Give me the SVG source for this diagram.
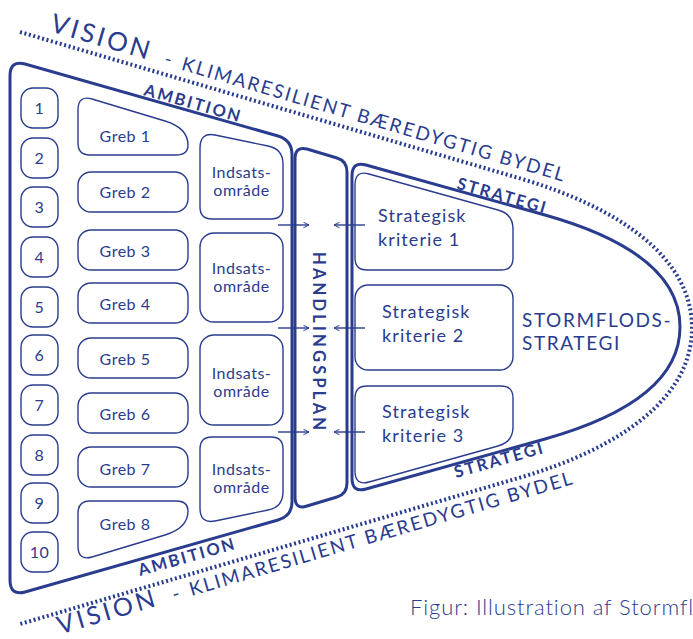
<svg xmlns="http://www.w3.org/2000/svg" width="693" height="639" viewBox="0 0 693 639">
<defs>
<style>
.s{fill:none;stroke:#2a3c8e;stroke-linejoin:round}
.k{stroke-width:3}
.n{stroke-width:1.4}
.t{font-family:Lato,'Noto Sans',sans-serif;fill:#2a3c8e}
.b{font-weight:700}
.g{font-size:16px;letter-spacing:0.5px;text-anchor:middle}
.sk{font-size:18px;letter-spacing:1.1px}
.dot{fill:none;stroke:#2a3c8e;stroke-width:4;stroke-dasharray:2 2.6}
.lab{font-size:16.5px;font-weight:700;letter-spacing:2.2px}
</style>
<marker id="ah" viewBox="0 0 10 10" refX="9" refY="5" markerWidth="7" markerHeight="7" orient="auto" markerUnits="userSpaceOnUse">
<path d="M1,1 L9,5 L1,9" fill="none" stroke="#2a3c8e" stroke-width="1.4"/>
</marker>
</defs>

<g id="vision">
<path class="dot" d="M20 32 L520 178.4 C620 207.7 692 258 692 328 C692 398 620 448.3 520 477.6 L20 624"/>
<g class="t" transform="translate(49,31) rotate(16.33)">
<text x="0" y="0" font-size="26" letter-spacing="3">VISION</text>
<text x="119" y="0" font-size="19">-</text>
<text x="137" y="0" font-size="19" letter-spacing="2">KLIMARESILIENT BÆREDYGTIG BYDEL</text>
</g>
<g class="t" transform="translate(60,634.5) rotate(-16.33)">
<text x="0" y="0" font-size="25" letter-spacing="3.4">VISION</text>
<text x="119" y="0" font-size="19">-</text>
<text x="137" y="0" font-size="19" letter-spacing="2">KLIMARESILIENT BÆREDYGTIG BYDEL</text>
</g>
</g>

<g id="ambition">
<path class="s k" d="M10 76 Q10 60 25 64 L278 136 Q292 140 292 155 L292 502 Q292 516 278 520 L25 592 Q10 596 10 580 Z"/>
<text class="t lab" transform="translate(143,95) rotate(15.8)">AMBITION</text>
<text class="t lab" transform="translate(140,576) rotate(-15.8)">AMBITION</text>
</g>

<g id="numbers">
<g id="n1"><rect class="s n" x="21" y="88" width="37" height="40" rx="12"/><text class="t g" x="39.5" y="114">1</text></g>
<g id="n2"><rect class="s n" x="21" y="138" width="37" height="40" rx="12"/><text class="t g" x="39.5" y="164">2</text></g>
<g id="n3"><rect class="s n" x="21" y="187" width="37" height="40" rx="12"/><text class="t g" x="39.5" y="213">3</text></g>
<g id="n4"><rect class="s n" x="21" y="237" width="37" height="40" rx="12"/><text class="t g" x="39.5" y="263">4</text></g>
<g id="n5"><rect class="s n" x="21" y="287" width="37" height="40" rx="12"/><text class="t g" x="39.5" y="313">5</text></g>
<g id="n6"><rect class="s n" x="21" y="335" width="37" height="40" rx="12"/><text class="t g" x="39.5" y="361">6</text></g>
<g id="n7"><rect class="s n" x="21" y="385" width="37" height="40" rx="12"/><text class="t g" x="39.5" y="411">7</text></g>
<g id="n8"><rect class="s n" x="21" y="435" width="37" height="40" rx="12"/><text class="t g" x="39.5" y="461">8</text></g>
<g id="n9"><rect class="s n" x="21" y="483" width="37" height="40" rx="12"/><text class="t g" x="39.5" y="509">9</text></g>
<g id="n10"><rect class="s n" x="21" y="532" width="37" height="40" rx="12"/><text class="t g" x="39.5" y="558">10</text></g>
</g>

<g id="greb">
<g id="greb1"><path class="s n" d="M78 110 Q78 95 92 99 L165 121 Q188 128 188 145 Q188 155 176 155 L90 155 Q78 155 78 143 Z"/><text class="t g" x="125" y="142">Greb 1</text></g>
<g id="greb2"><rect class="s n" x="78" y="172" width="110" height="40" rx="13"/><text class="t g" x="125" y="198">Greb 2</text></g>
<g id="greb3"><rect class="s n" x="78" y="230" width="110" height="40" rx="13"/><text class="t g" x="125" y="257">Greb 3</text></g>
<g id="greb4"><rect class="s n" x="78" y="283" width="110" height="40" rx="13"/><text class="t g" x="125" y="310">Greb 4</text></g>
<g id="greb5"><rect class="s n" x="78" y="338" width="110" height="40" rx="13"/><text class="t g" x="125" y="365">Greb 5</text></g>
<g id="greb6"><rect class="s n" x="78" y="393" width="110" height="40" rx="13"/><text class="t g" x="125" y="420">Greb 6</text></g>
<g id="greb7"><rect class="s n" x="78" y="447" width="110" height="40" rx="13"/><text class="t g" x="125" y="475">Greb 7</text></g>
<g id="greb8"><path class="s n" d="M78 546 Q78 561 92 557 L165 535 Q188 528 188 511 Q188 501 176 501 L90 501 Q78 501 78 513 Z"/><text class="t g" x="125" y="530">Greb 8</text></g>
</g>

<g id="indsats">
<g id="indsats1"><path class="s n" d="M200 148 Q200 132 215 135 L268 146 Q283 149 283 164 L283 207 Q283 219 271 219 L212 219 Q200 219 200 207 Z"/><text class="t g" x="241.5" y="178">Indsats-</text><text class="t g" x="241.5" y="196">område</text></g>
<g id="indsats2"><rect class="s n" x="200" y="233" width="83" height="89" rx="14"/><text class="t g" x="241.5" y="274">Indsats-</text><text class="t g" x="241.5" y="292">område</text></g>
<g id="indsats3"><rect class="s n" x="200" y="335" width="83" height="90" rx="14"/><text class="t g" x="241.5" y="379">Indsats-</text><text class="t g" x="241.5" y="397">område</text></g>
<g id="indsats4"><path class="s n" d="M200 508 Q200 524 215 521 L268 510 Q283 507 283 492 L283 449 Q283 437 271 437 L212 437 Q200 437 200 449 Z"/><text class="t g" x="241.5" y="475">Indsats-</text><text class="t g" x="241.5" y="493">område</text></g>
</g>

<g id="handlingsplan">
<path class="s k" d="M295 159 Q295 146 307 149 L337 158 Q347 161 347 172 L347 483 Q347 494 337 497 L307 506 Q295 510 295 497 Z"/>
<text class="t b" font-size="16.5" letter-spacing="3.2" transform="translate(313,252) rotate(90)">HANDLINGSPLAN</text>
</g>

<g id="strategi">
<path class="s k" d="M352 176 Q352 161 366 165 L545 215 C630 239 680 275 680 327 C680 379 630 415 545 439 L366 489 Q352 493 352 478 Z"/>
<text class="t lab" transform="translate(456,188.5) rotate(15.8)">STRATEGI</text>
<text class="t lab" transform="translate(456,478) rotate(-15.8)">STRATEGI</text>
<text class="t" font-size="19" letter-spacing="1.6" x="522" y="327">STORMFLODS-</text>
<text class="t" font-size="19" letter-spacing="1.6" x="522" y="350">STRATEGI</text>
</g>

<g id="kriterie1"><path class="s n" d="M355 185 Q355 170 369 174 L498 210 Q513 214 513 229 L513 258 Q513 270 501 270 L367 270 Q355 270 355 258 Z"/><text class="t sk" x="378" y="222">Strategisk</text><text class="t sk" x="378" y="246">kriterie 1</text></g>
<g id="kriterie2"><rect class="s n" x="355" y="285" width="158" height="85" rx="13"/><text class="t sk" x="382" y="318">Strategisk</text><text class="t sk" x="382" y="342">kriterie 2</text></g>
<g id="kriterie3"><path class="s n" d="M355 471 Q355 486 369 482 L498 446 Q513 442 513 427 L513 398 Q513 386 501 386 L367 386 Q355 386 355 398 Z"/><text class="t sk" x="382" y="418">Strategisk</text><text class="t sk" x="382" y="442">kriterie 3</text></g>

<g id="connectors" fill="none" stroke="#2a3c8e" stroke-width="1.4">
<line x1="278" y1="225" x2="309" y2="225" marker-end="url(#ah)"/>
<line x1="278" y1="328" x2="309" y2="328" marker-end="url(#ah)"/>
<line x1="278" y1="432" x2="309" y2="432" marker-end="url(#ah)"/>
<line x1="365" y1="225" x2="334" y2="225" marker-end="url(#ah)"/>
<line x1="365" y1="328" x2="334" y2="328" marker-end="url(#ah)"/>
<line x1="365" y1="432" x2="334" y2="432" marker-end="url(#ah)"/>
</g>

<text class="t" font-size="22" font-weight="300" letter-spacing="0.9" x="410" y="615">Figur: Illustration af Stormfl</text>
</svg>
